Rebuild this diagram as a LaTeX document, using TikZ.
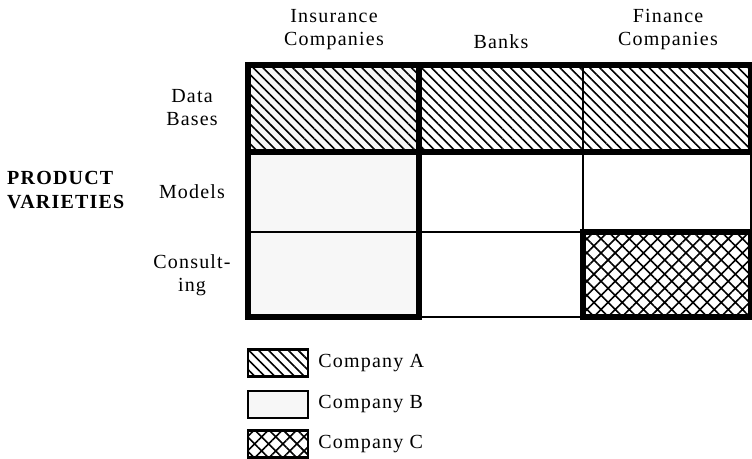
\documentclass[tikz,border=0pt]{standalone}
\usepackage{fontspec}
\setmainfont{Liberation Serif}[LetterSpace=6]
\usetikzlibrary{patterns.meta,positioning}
\tikzset{
  head/.style={
    align=center,
    inner sep=0pt,
    font=\fontsize{20}{23}\selectfont
  },
  side/.style={
    align=left,
    inner sep=0pt,
    font=\fontsize{20}{24}\selectfont\bfseries
  },
  grid/.style={draw, line width=2pt},
  region/.style={draw, line width=5.5pt},
  compA/.style={pattern={Lines[angle=-45,distance=7pt,line width=1.6pt]}},
  compB/.style={fill=black!3},
  compC/.style={pattern={Hatch[angle=45,distance=10pt,line width=1.6pt]}},
  key/.style={
    draw,
    line width=2.5pt,
    minimum width=60pt,
    minimum height=27pt,
    inner sep=0pt
  }
}

\begin{document}
\begin{tikzpicture}[x=1pt, y=1pt]
\useasboundingbox (0,0) rectangle (752,-458);

% grid corners
\foreach \n/\x in {a/248, b/419, c/583, d/751}
  \foreach \m/\y in {1/65, 2/152, 3/232, 4/317}
    \coordinate (\n\m) at (\x,-\y);

% column heads
\node[head] (ins) at (334,-30) {Insurance\\Companies};
\node[head] (bank) at (501,-42) {Banks};
\node[head] (fin) at (668,-30) {Finance\\Companies};

% row heads
\node[head] (db) at (192,-108) {Data\\Bases};
\node[head] (mod) at (192,-192) {Models};
\node[head] (cons) at (192,-275) {Consult-\\ing};
\node[side, anchor=west] (pv) at (7,-190) {PRODUCT\\VARIETIES};

% cell fills
\path[compB] (a2) rectangle (b4);
\path[compA, preaction=compB] (a1) rectangle (b2);
\path[compA] (b1) rectangle (d2);
\path[compC] (c3) rectangle (d4);

% thin grid
\draw[grid] (a1) rectangle (d4);
\draw[grid] (b1) -- (b4);
\draw[grid] (c1) -- (c4);
\draw[grid] (a2) -- (d2);
\draw[grid] (a3) -- (d3);

% company outlines
\draw[region] (a1) rectangle (d2);
\draw[region] (a1) rectangle (b4);
\draw[region] (c3) rectangle (d4);

% key
\node[key, compA] (keyA) at (278,-363) {};
\node[key, compB, below=12pt of keyA] (keyB) {};
\node[key, compC, below=10pt of keyB] (keyC) {};
\node[head, right=9pt of keyA] (txtA) {Company A};
\node[head, right=9pt of keyB] (txtB) {Company B};
\node[head, right=9pt of keyC] (txtC) {Company C};

\end{tikzpicture}
\end{document}
